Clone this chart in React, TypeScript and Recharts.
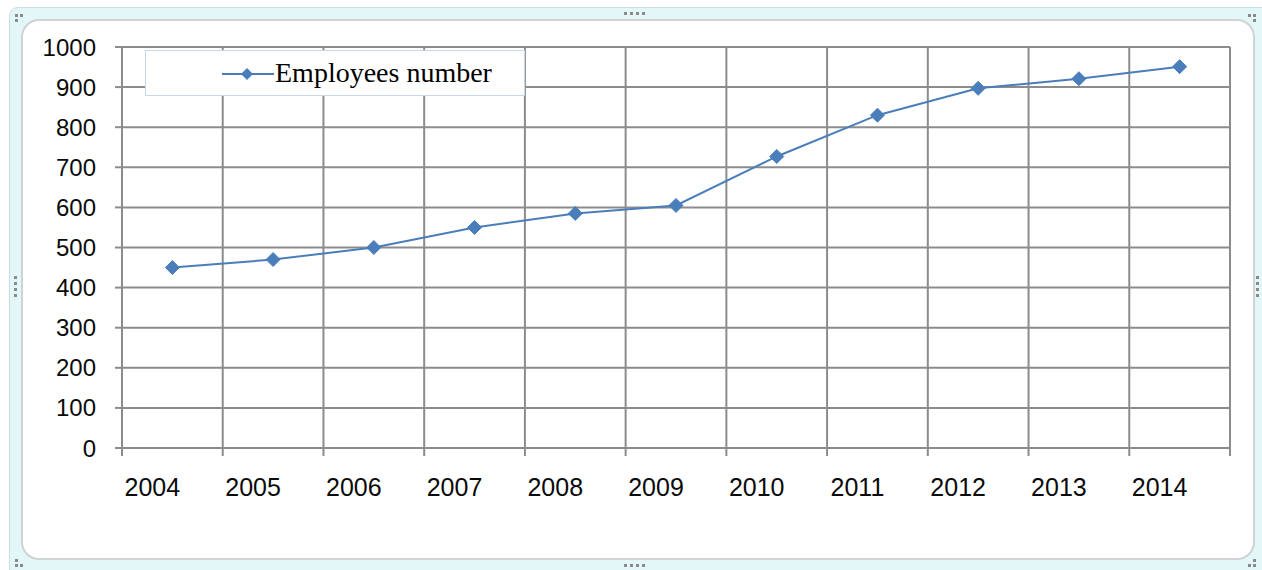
import React from "react";
import { LineChart, Line, XAxis, YAxis, CartesianGrid, Legend } from "recharts";

const years = [2004, 2005, 2006, 2007, 2008, 2009, 2010, 2011, 2012, 2013, 2014];
const employees = [450, 470, 500, 550, 585, 605, 727, 830, 897, 921, 951];
const yTicks = [0, 100, 200, 300, 400, 500, 600, 700, 800, 900, 1000];
const seriesName = "Employees number";

const data = years.map((y, i) => ({ year: y, value: employees[i] }));
const xDomain: [number, number] = [years[0] - 0.5, years[years.length - 1] + 0.5];
const boundaryTicks = [...years.map((y) => y - 0.5), years[years.length - 1] + 0.5];

const LINE = "#4a7ebb";
const GRID = "#8c8c8c";
const SANS = "'Liberation Sans', Arial, sans-serif";
const SERIF = "'Liberation Serif', 'Times New Roman', serif";

const Diamond = (props: any) => {
  const { cx, cy } = props;
  if (cx == null || cy == null) return null;
  const r = 7;
  return (
    <polygon
      points={`${cx},${cy - r} ${cx + r},${cy} ${cx},${cy + r} ${cx - r},${cy}`}
      fill={LINE}
      stroke={LINE}
      strokeWidth={1}
    />
  );
};

const EmptyTick = () => <g />;

const LegendBox = () => (
  <div
    style={{
      width: 378,
      height: 44,
      border: "1px solid #c6d6ec",
      background: "#fff",
      position: "relative",
    }}
  >
    <svg width={60} height={44} style={{ position: "absolute", left: 76, top: 0 }}>
      <line x1={0} y1={23} x2={52} y2={23} stroke={LINE} strokeWidth={2} />
      <polygon points="25,17 31,23 25,29 19,23" fill={LINE} />
    </svg>
    <span
      style={{
        position: "absolute",
        left: 129,
        top: 6,
        fontFamily: SERIF,
        fontSize: 28,
        color: "#000",
        lineHeight: "32px",
        whiteSpace: "nowrap",
      }}
    >
      {seriesName}
    </span>
  </div>
);

const dot = (left: number, top: number, key: string) => (
  <div
    key={key}
    style={{
      position: "absolute",
      left,
      top,
      width: 3,
      height: 3,
      background: "#8a8a8a",
    }}
  />
);

export default function App() {
  const handles: React.ReactNode[] = [];
  handles.push(dot(15, 14, "a"), dot(20, 14, "b"), dot(15, 19, "c"));
  handles.push(dot(1248, 14, "d"), dot(1253, 14, "e"), dot(1253, 19, "f"));
  handles.push(dot(15, 559, "g"), dot(15, 564, "h"), dot(20, 564, "i"));
  handles.push(dot(1253, 559, "j"), dot(1253, 564, "k"), dot(1248, 564, "l"));
  [624, 630, 636, 642].forEach((x, i) => handles.push(dot(x, 12, "tm" + i)));
  [624, 630, 636, 642].forEach((x, i) => handles.push(dot(x, 564, "bm" + i)));
  [276, 282, 288, 294].forEach((y, i) => handles.push(dot(14, y, "lm" + i)));
  [276, 282, 288, 294].forEach((y, i) => handles.push(dot(1256, y, "rm" + i)));

  return (
    <div
      style={{
        position: "absolute",
        left: 0,
        top: 0,
        width: 1262,
        height: 570,
        background: "#fff",
        overflow: "hidden",
      }}
    >
      <div
        style={{
          position: "absolute",
          left: 9,
          top: 7,
          width: 1270,
          height: 580,
          background: "#e3f6f8",
          border: "1px solid #c9dfe2",
          borderRadius: 9,
        }}
      />
      <div
        style={{
          position: "absolute",
          left: 21,
          top: 19,
          width: 1230,
          height: 537,
          background: "#fff",
          border: "2px solid #cfd3d4",
          borderRadius: 18,
        }}
      />
      {handles}
      <div style={{ position: "absolute", left: 0, top: 0 }}>
        <LineChart
          width={1262}
          height={570}
          data={data}
          margin={{ top: 47, right: 32, bottom: 54, left: 42 }}
        >
          <CartesianGrid
            xAxisId="grid"
            stroke={GRID}
            strokeWidth={2}
            verticalFill={[]}
            horizontalFill={[]}
          />
          <XAxis
            xAxisId="grid"
            type="number"
            dataKey="year"
            domain={xDomain}
            ticks={boundaryTicks}
            height={8}
            tickSize={8}
            tickLine={{ stroke: GRID, strokeWidth: 2 }}
            axisLine={false}
            tick={EmptyTick}
            allowDecimals
            interval={0}
          />
          <XAxis
            xAxisId="label"
            type="number"
            dataKey="year"
            domain={xDomain}
            ticks={years}
            height={60}
            tickSize={0}
            tickMargin={22}
            tickLine={false}
            axisLine={false}
            interval={0}
            tick={{ fontFamily: SANS, fontSize: 25, fill: "#0a0a0a", dx: -20 }}
          />
          <YAxis
            type="number"
            domain={[0, 1000]}
            ticks={yTicks}
            width={80}
            tickSize={7}
            tickMargin={19}
            tickLine={{ stroke: GRID, strokeWidth: 2 }}
            axisLine={false}
            interval={0}
            tick={{ fontFamily: SANS, fontSize: 24, fill: "#0a0a0a" }}
          />
          <Legend
            layout="horizontal"
            verticalAlign="middle"
            align="center"
            wrapperStyle={{ left: 145, top: 50, width: 380, height: 46 }}
            content={() => <LegendBox />}
          />
          <Line
            xAxisId="label"
            type="linear"
            dataKey="value"
            name={seriesName}
            stroke={LINE}
            strokeWidth={2}
            dot={<Diamond />}
            activeDot={false}
            isAnimationActive={false}
          />
        </LineChart>
      </div>
    </div>
  );
}
